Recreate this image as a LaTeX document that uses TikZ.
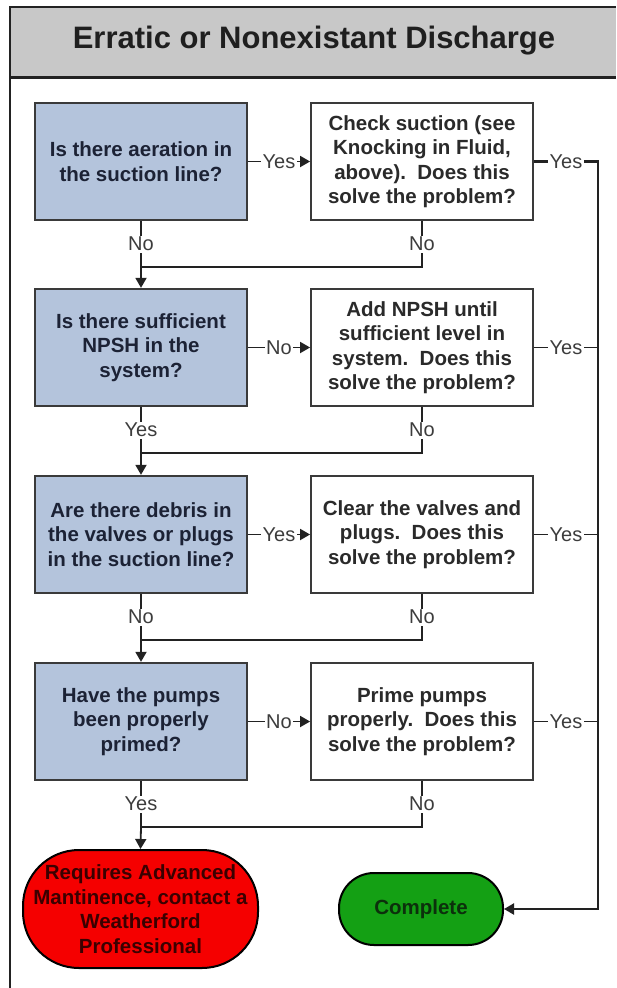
\documentclass[tikz,border=0pt]{standalone}
\usepackage{fontspec}
\setmainfont{Liberation Sans}
\usetikzlibrary{arrows.meta}

\definecolor{qfill}{HTML}{B4C4DC}
\definecolor{qtext}{HTML}{1C2235}
\definecolor{atext}{HTML}{2A2A2A}
\definecolor{boxline}{HTML}{3A3A3A}
\definecolor{connc}{HTML}{222222}
\definecolor{lbltext}{HTML}{3C3C3C}
\definecolor{bandfill}{HTML}{C8C8C8}
\definecolor{stopred}{HTML}{F50000}
\definecolor{stoptext}{HTML}{3A0000}
\definecolor{okgreen}{HTML}{14A014}
\definecolor{oktext}{HTML}{0C300C}

\newcommand\qfnt{\bfseries\fontsize{20.5}{24.5}\selectfont}
\newcommand\lblfnt{\fontsize{20}{22}\selectfont}
\newcommand\ttlfnt{\bfseries\fontsize{31}{34}\selectfont}

\begin{document}
\begin{tikzpicture}[x=1pt,y=-1pt,
  qbox/.style={draw=boxline, line width=1.8pt, fill=qfill, minimum width=212pt,
    minimum height=117.5pt, inner sep=0pt, align=center, font=\qfnt, text=qtext},
  abox/.style={draw=boxline, line width=1.8pt, fill=white, minimum width=222pt,
    minimum height=117.5pt, inner sep=0pt, align=center, font=\qfnt, text=atext},
  lbl/.style={fill=white, inner sep=1.5pt, font=\lblfnt, text=lbltext},
  conn/.style={draw=connc, line width=1.8pt},
  arr/.style={conn, -{Triangle[length=10pt,width=11pt]}},
  term/.style={draw=black, line width=2pt, inner sep=0pt, align=center, font=\qfnt}
]
\useasboundingbox (0,0) rectangle (616,988);
\clip (0,0) rectangle (616,988);

% outer frame and title band (open to the right and bottom)
\fill[bandfill] (10,7) rectangle (616,77);
\draw[connc, line width=2.2pt] (10,7) -- (616,7);
\draw[connc, line width=3pt] (10,77) -- (616,77);
\draw[connc, line width=2.6pt] (10,988) -- (10,5.9);
\node[font=\ttlfnt, text=black!88] (title) at (314,41) {Erratic or Nonexistant Discharge};

% question column
\node[qbox] (q1) at (141,161.5) {Is there aeration in\\the suction line?};
\node[qbox] (q2) at (141,347.5) {Is there sufficient\\NPSH in the\\system?};
\node[qbox] (q3) at (141,534.5) {Are there debris in\\the valves or plugs\\in the suction line?};
\node[qbox] (q4) at (141,721.5) {Have the pumps\\been properly\\primed?};

% action column
\node[abox] (a1) at (422,161.5) {Check suction (see\\Knocking in Fluid,\\above).~~Does this\\solve the problem?};
\node[abox] (a2) at (422,347.5) {Add NPSH until\\sufficient level in\\system.~~Does this\\solve the problem?};
\node[abox] (a3) at (422,534.5) {Clear the valves and\\plugs.~~Does this\\solve the problem?};
\node[abox] (a4) at (422,721.5) {Prime pumps\\properly.~~Does this\\solve the problem?};

% end points
\node[term, fill=stopred, text=stoptext, minimum width=235pt, minimum height=118pt,
  rounded corners=56pt] (adv) at (140.5,909)
  {Requires Advanced\\Mantinence, contact a\\Weatherford\\Professional};
\node[term, fill=okgreen, text=oktext, minimum width=164pt, minimum height=72pt,
  rounded corners=35pt] (done) at (421,909) {Complete};

% junction points on the left column
\coordinate (j1) at (141,267);
\coordinate (j2) at (141,453);
\coordinate (j3) at (141,640);
\coordinate (j4) at (141,827);
\coordinate (bus) at (598,161.5);

% question -> action
\draw[arr] (q1.east) -- node[lbl] {Yes} (a1.west);
\draw[arr] (q2.east) -- node[lbl] {No} (a2.west);
\draw[arr] (q3.east) -- node[lbl] {Yes} (a3.west);
\draw[arr] (q4.east) -- node[lbl] {No} (a4.west);

% question -> next question
\draw[conn] (q1.south) -- node[lbl] {No} (j1);
\draw[arr] (j1) -- (q2.north);
\draw[conn] (q2.south) -- node[lbl] {Yes} (j2);
\draw[arr] (j2) -- (q3.north);
\draw[conn] (q3.south) -- node[lbl] {No} (j3);
\draw[arr] (j3) -- (q4.north);
\draw[conn] (q4.south) -- node[lbl] {Yes} (j4);
\draw[arr] (j4) -- (adv.north);

% action failed -> back to the left column
\draw[conn] (a1.south) -- node[lbl] {No} (a1.south |- j1) -- (j1);
\draw[conn] (a2.south) -- node[lbl] {No} (a2.south |- j2) -- (j2);
\draw[conn] (a3.south) -- node[lbl] {No} (a3.south |- j3) -- (j3);
\draw[conn] (a4.south) -- node[lbl] {No} (a4.south |- j4) -- (j4);

% action solved -> Complete
\draw[arr, line width=2.2pt] (a1.east) -- node[lbl] {Yes} (bus) |- (done.east);
\draw[conn] (a2.east) -- node[lbl] {Yes} (a2.east -| bus);
\draw[conn] (a3.east) -- node[lbl] {Yes} (a3.east -| bus);
\draw[conn] (a4.east) -- node[lbl] {Yes} (a4.east -| bus);
\end{tikzpicture}
\end{document}
